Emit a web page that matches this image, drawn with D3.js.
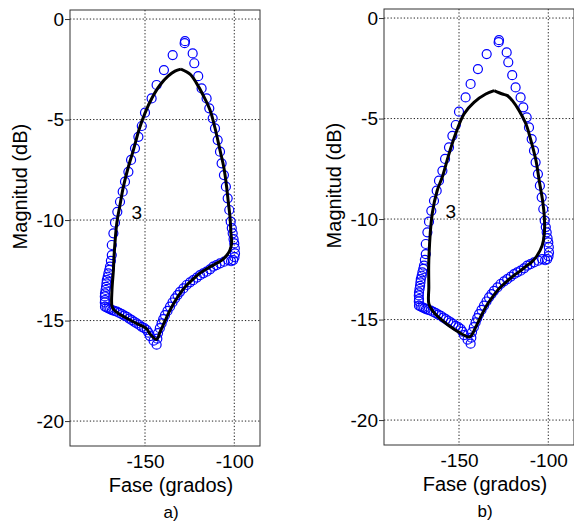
<!DOCTYPE html>
<html>
<head>
<meta charset="utf-8">
<script src="https://cdn.jsdelivr.net/npm/d3@7"></script>
<style>
  body { margin: 0; background: #fff; }
  text { font-family: "Liberation Sans", Arial, sans-serif; }
</style>
</head>
<body>
<script>
const w = 574;
const h = 523;

// measured points (blue circles), [phase deg, magnitude dB]
const measured = [
  [-127.6,-1.1],[-127.8,-1.2],
  [-123.3,-1.71],[-122.4,-2.2],[-120.2,-2.84],[-118.3,-3.45],[-115.5,-3.95],[-114.0,-4.44],
  [-112.1,-4.94],[-110.8,-5.44],[-109.3,-6.02],[-108.0,-6.6],[-107.1,-7.18],[-105.8,-7.76],
  [-104.7,-8.34],[-103.7,-8.92],[-102.8,-9.5],[-102.0,-10.08],[-101.4,-10.4],[-100.9,-10.66],
  [-100.4,-10.95],[-100.0,-11.16],[-99.7,-11.4],[-99.6,-11.66],[-99.9,-11.85],[-100.6,-11.99],
  [-101.8,-12.05],[-103.4,-11.99],[-105.6,-12.07],[-108,-12.15],[-110,-12.24],[-111.8,-12.32],
  [-113.6,-12.45],[-115.5,-12.57],[-117.4,-12.65],[-119.2,-12.74],[-121,-12.86],[-123,-12.99],
  [-124.8,-13.1],[-126.7,-13.23],[-128.5,-13.4],[-130.4,-13.57],[-131.8,-13.73],[-133.2,-13.9],
  [-134.6,-14.1],[-136,-14.31],[-137.4,-14.52],[-138.8,-14.73],[-139.8,-14.93],[-140.7,-15.14],
  [-141.7,-15.38],[-142.7,-15.62],[-143.1,-15.9],[-143.5,-16.2],
  [-145.2,-16.0],[-147.2,-15.77],[-148.1,-15.6],[-149.0,-15.47],[-150.4,-15.38],[-151.8,-15.31],
  [-153.2,-15.22],[-154.6,-15.14],[-156,-15.06],[-157.4,-14.98],[-158.8,-14.9],[-160.2,-14.81],
  [-161.6,-14.75],[-163.0,-14.68],[-164.4,-14.62],[-165.8,-14.56],[-167.2,-14.52],[-168.5,-14.48],
  [-169.5,-14.43],[-170.5,-14.39],[-171.5,-14.35],[-172.4,-14.31],
  [-172.5,-14.1],[-172.4,-13.98],[-172.5,-13.8],[-172.4,-13.65],[-172.1,-13.48],[-171.8,-13.32],
  [-171.6,-13.15],[-171.4,-12.99],[-170.9,-12.82],[-170.5,-12.65],[-170.0,-12.48],[-169.6,-12.32],
  [-169.1,-12.03],[-168.6,-11.74],[-168.6,-11.24],[-167.7,-10.66],[-166.8,-10.13],[-165.5,-9.59],
  [-164.0,-9.09],[-162.5,-8.59],[-161.2,-8.09],[-159.3,-7.6],[-157.8,-7.01],[-155.6,-6.43],
  [-153.7,-5.86],[-151.8,-5.32],[-150.0,-4.66],[-146.3,-3.95],[-143.5,-3.28],[-139.4,-2.54],
  [-134.5,-1.79]
];

// model a)
const modelA = [
  [-129.9,-2.49],[-124.8,-2.74],[-121.1,-3.2],[-117.5,-3.78],[-113.6,-4.53],[-110.8,-5.42],
  [-108.0,-6.52],[-105.8,-7.41],[-104.3,-8.34],[-103.3,-9.15],[-102.4,-9.84],[-101.9,-10.6],
  [-101.5,-11.16],[-102.4,-11.49],[-104.1,-11.74],[-106.9,-11.99],[-109.9,-12.15],[-114.7,-12.39],
  [-119.2,-12.64],[-123.1,-12.94],[-127.6,-13.33],[-132.1,-13.88],[-136.0,-14.48],[-138.8,-15.02],
  [-141.6,-15.57],[-143.5,-15.94],[-147.2,-15.67],[-149.0,-15.42],[-152.8,-15.22],[-156.5,-15.06],
  [-161.2,-14.83],[-165.1,-14.63],[-167.3,-14.48],[-168.5,-14.28],[-168.5,-13.48],[-167.7,-12.49],
  [-167.3,-11.74],[-165.8,-10.16],[-164.0,-9.25],[-162.1,-8.34],[-159.5,-7.41],[-156.5,-6.52],
  [-153.4,-5.52],[-150.0,-4.68],[-146.1,-3.93],[-141.6,-3.28],[-137.1,-2.84],[-133.2,-2.59],
  [-129.9,-2.49]
];

// model b)
const modelB = [
  [-130.3,-3.61],[-125.7,-3.78],[-122.9,-3.86],[-120.1,-4.11],[-116.3,-4.61],[-112.5,-5.27],
  [-109.7,-6.1],[-106.9,-7.09],[-105.1,-8.08],[-103.2,-9.08],[-102.2,-9.91],[-102.2,-10.73],
  [-103.4,-11.31],[-106.5,-11.85],[-109.5,-12.15],[-112.5,-12.35],[-116.0,-12.6],[-119.5,-12.82],
  [-123.5,-13.12],[-127.5,-13.45],[-131.0,-13.85],[-134.5,-14.3],[-137.5,-14.8],[-140.5,-15.35],
  [-143.0,-15.78],[-144.4,-15.87],[-151.9,-15.53],[-159.4,-15.04],[-165.0,-14.54],
  [-166.9,-14.21],[-166.9,-13.38],[-166.9,-12.06],[-165.0,-9.74],[-162.2,-8.58],[-159.4,-7.92],
  [-155.6,-6.76],[-151.9,-5.76],[-147.2,-4.77],[-141.6,-4.19],[-135.0,-3.78],[-130.3,-3.61]
];

const xTicks = [-150, -100];
const yTicks = [0, -5, -10, -15, -20];
const panels = [
  { model: modelA, label: "a)", left: 70, top: 10 },
  { model: modelB, label: "b)", left: 384, top: 9 }
];

const pw = 190;
const ph = 436;

const x = d3.scaleLinear().domain([-192, -85.6]).range([0, pw]);
const y = d3.scaleLinear().domain([-21.24, 0.45]).range([ph, 0]);

const svg = d3
  .select("body")
  .append("svg")
  .attr("width", w)
  .attr("height", h);

panels.forEach(function(p) {
  const g = svg
    .append("g")
    .attr("transform", "translate(" + p.left + "," + p.top + ")");

  // grid
  g.selectAll(".gx")
    .data(xTicks)
    .enter()
    .append("line")
    .attr("x1", d => x(d))
    .attr("x2", d => x(d))
    .attr("y1", 0)
    .attr("y2", ph)
    .attr("stroke", "#222")
    .attr("stroke-dasharray", "1.3,2");

  g.selectAll(".gy")
    .data(yTicks)
    .enter()
    .append("line")
    .attr("x1", 0)
    .attr("x2", pw)
    .attr("y1", d => y(d))
    .attr("y2", d => y(d))
    .attr("stroke", "#222")
    .attr("stroke-dasharray", "1.3,2");

  // measured circles
  g.selectAll("circle")
    .data(measured)
    .enter()
    .append("circle")
    .attr("cx", d => x(d[0]))
    .attr("cy", d => y(d[1]))
    .attr("r", 4.5)
    .attr("fill", "none")
    .attr("stroke", "#0000ff")
    .attr("stroke-width", 1.2);

  // model line
  const line = d3
    .line()
    .x(d => x(d[0]))
    .y(d => y(d[1]))
    .curve(d3.curveCatmullRom);

  g.append("path")
    .datum(p.model)
    .attr("d", line)
    .attr("fill", "none")
    .attr("stroke", "#000")
    .attr("stroke-width", 3)
    .attr("stroke-linejoin", "round");

  g.append("text")
    .attr("x", x(-154.6))
    .attr("y", y(-9.6))
    .attr("dy", "0.35em")
    .attr("text-anchor", "middle")
    .style("font-size", "19px")
    .text("3");

  // box
  g.append("rect")
    .attr("width", pw)
    .attr("height", ph)
    .attr("fill", "none")
    .attr("stroke", "#333")
    .attr("stroke-width", 1);

  // axes
  const yAxis = d3.axisLeft(y).tickValues(yTicks).tickSize(5).tickPadding(1).tickFormat(d => d);
  const yg = g.append("g").call(yAxis);
  yg.select(".domain").remove();
  yg.selectAll("line").attr("stroke", "#333");
  yg.selectAll("text").style("font-size", "19px").attr("fill", "#000");

  const xAxis = d3.axisBottom(x).tickValues(xTicks).tickSize(0).tickPadding(9).tickFormat(d => d);
  const xg = g.append("g").attr("transform", "translate(0," + ph + ")").call(xAxis);
  xg.select(".domain").remove();
  xg.selectAll("text").style("font-size", "19px").attr("fill", "#000");

  // labels
  g.append("text")
    .attr("transform", "translate(-50," + (ph * 0.405) + ") rotate(-90)")
    .attr("text-anchor", "middle")
    .attr("dy", "0.35em")
    .style("font-size", "20px")
    .text("Magnitud (dB)");

  g.append("text")
    .attr("x", 101)
    .attr("y", ph + 46)
    .attr("text-anchor", "middle")
    .style("font-size", "20px")
    .text("Fase (grados)");

  g.append("text")
    .attr("x", 101)
    .attr("y", ph + 72)
    .attr("text-anchor", "middle")
    .style("font-size", "17px")
    .text(p.label);
});
</script>
</body>
</html>
